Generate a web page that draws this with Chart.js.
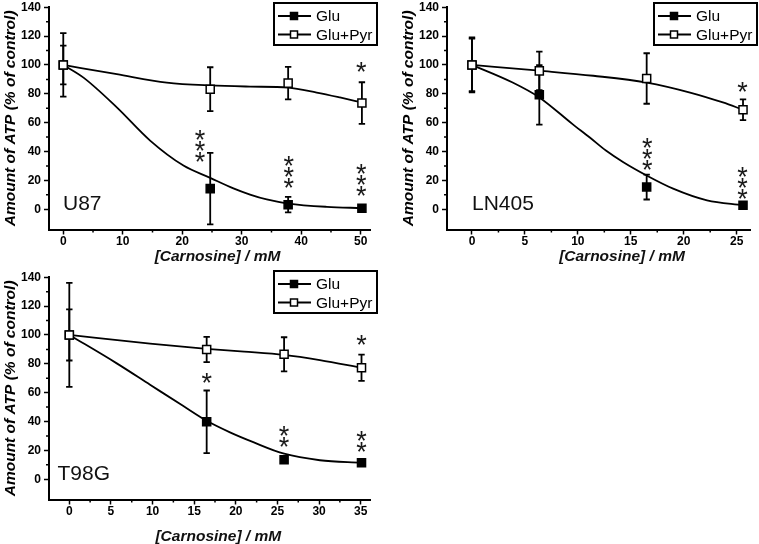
<!DOCTYPE html>
<html>
<head>
<meta charset="utf-8">
<script src="https://cdn.jsdelivr.net/npm/chart.js@4.4.1/dist/chart.umd.min.js"></script>
<style>
  html, body { margin: 0; padding: 0; background: #fff; }
  body { width: 759px; height: 544px; position: relative; overflow: hidden; }
  .panel { position: absolute; }
</style>
</head>
<body>
<div class="panel" style="left:0;top:0;width:380px;height:270px"><canvas id="u87"></canvas></div>
<div class="panel" style="left:398px;top:0;width:361px;height:270px"><canvas id="ln405"></canvas></div>
<div class="panel" style="left:0;top:270px;width:380px;height:274px"><canvas id="t98g"></canvas></div>
<script>
// ---- data ----
const yMajor = [0, 20, 40, 60, 80, 100, 120, 140];
const yMinor = [10, 30, 50, 70, 90, 110, 130];

// U87
const u87X = [0, 24.7, 37.8, 50.2];
const u87Glu = [100, 14.3, 3.2, 0.7];
const u87GluErr = [22, 24.8, 5.4, 0];
const u87Pyr = [100, 83.2, 87.4, 73.6];
const u87PyrErr = [13.4, 15.2, 11.2, 14.4];
const u87GluFitX = [0, 3.4, 9, 14.6, 20.2, 24.7, 28.6, 31.4, 34.2, 37.8, 44.3, 50.2];
const u87GluFitY = [100, 91.2, 70.6, 47.6, 30.3, 21.8, 14.5, 10.2, 6.8, 4.0, 1.7, 0.8];
const u87PyrFitX = [0, 9, 17.4, 24.7, 31.4, 37.8, 42.6, 46.5, 50.2];
const u87PyrFitY = [100, 93.6, 87.8, 85.8, 85, 84.3, 80.9, 77.5, 74];
const u87XMajor = [0, 10, 20, 30, 40, 50];
const u87XMinor = [5, 15, 25, 35, 45];
const u87StarX = [23, 37.9, 50.1, 50.1];
const u87StarY = [51.5, 33.8, 27.6, 98.8];
const u87StarN = [3, 3, 3, 1];

// LN405
const ln405X = [0, 6.36, 16.5, 25.6];
const ln405Glu = [100, 79.3, 15.4, 2.8];
const ln405GluErr = [19, 20.6, 8.6, 0];
const ln405Pyr = [100, 95.9, 90.6, 69];
const ln405PyrErr = [18.2, 13.3, 17.5, 7.2];
const ln405GluFitX = [0, 3.84, 6.36, 9.5, 11.1, 12.65, 14.3, 16.5, 19, 22.2, 25.6];
const ln405GluFitY = [100, 87.8, 77.5, 59, 49.9, 40.7, 32.6, 23.4, 14.3, 6.2, 2.8];
const ln405PyrFitX = [0, 6.36, 11.46, 16.5, 20.6, 23.7, 25.6];
const ln405PyrFitY = [100, 96, 92.5, 87.8, 80.9, 74, 69];
const ln405XMajor = [0, 5, 10, 15, 20, 25];
const ln405XMinor = [2.5, 7.5, 12.5, 17.5, 22.5];
const ln405StarX = [16.56, 25.56, 25.56];
const ln405StarY = [45.7, 25.7, 84.8];
const ln405StarN = [3, 3, 1];

// T98G
const t98gX = [0, 16.5, 25.8, 35.1];
const t98gGlu = [100, 39.8, 13.6, 11.4];
const t98gGluErr = [36, 21.7, 0, 0];
const t98gPyr = [100, 89.9, 86.6, 77.3];
const t98gPyrErr = [17.7, 8.8, 11.8, 9.1];
const t98gGluFitX = [0, 5.7, 9.7, 13.7, 16.5, 19.3, 22.1, 25.8, 30.1, 35.1];
const t98gGluFitY = [100, 80.3, 65.5, 50.7, 40.5, 32.5, 25.7, 17.7, 13.2, 11.4];
const t98gPyrFitX = [0, 9.7, 16.5, 21, 25.8, 30.1, 35.1];
const t98gPyrFitY = [100, 94, 90.4, 88.5, 86.2, 82.6, 77.3];
const t98gXMajor = [0, 5, 10, 15, 20, 25, 30, 35];
const t98gXMinor = [2.5, 7.5, 12.5, 17.5, 22.5, 27.5, 32.5];
const t98gStarX = [16.5, 25.8, 35.1, 35.1];
const t98gStarY = [70, 33.6, 30.2, 96.2];
const t98gStarN = [1, 2, 2, 1];

const FONT = "'Liberation Sans', Arial, Helvetica, sans-serif";
const pts = (xs, ys) => xs.map((v, i) => ({ x: v, y: ys[i] }));

function makePanel(id, p) {
  // error bars go under the markers
  const errorBars = {
    id: 'errorBars',
    beforeDatasetsDraw(chart) {
      const { ctx, scales: { x, y } } = chart;
      ctx.save();
      ctx.strokeStyle = '#000';
      ctx.lineWidth = 1.8;
      [[p.glu, p.gluErr], [p.pyr, p.pyrErr]].forEach(([ys, es]) => {
        p.x.forEach((xv, i) => {
          if (!es[i]) return;
          const px = x.getPixelForValue(xv);
          const top = y.getPixelForValue(ys[i] + es[i]);
          const bot = y.getPixelForValue(ys[i] - es[i]);
          ctx.beginPath();
          ctx.moveTo(px, top); ctx.lineTo(px, bot);
          ctx.moveTo(px - 3.2, top); ctx.lineTo(px + 3.2, top);
          ctx.moveTo(px - 3.2, bot); ctx.lineTo(px + 3.2, bot);
          ctx.stroke();
        });
      });
      ctx.restore();
    },
  };

  const extras = {
    id: 'extras',
    afterDraw(chart) {
      const { ctx, chartArea, scales: { x, y } } = chart;
      ctx.save();
      // minor ticks
      ctx.strokeStyle = '#000';
      ctx.lineWidth = 1.5;
      ctx.beginPath();
      p.xMinor.forEach((v) => {
        const px = x.getPixelForValue(v);
        ctx.moveTo(px, chartArea.bottom); ctx.lineTo(px, chartArea.bottom + 3);
      });
      yMinor.forEach((v) => {
        const py = y.getPixelForValue(v);
        ctx.moveTo(chartArea.left, py); ctx.lineTo(chartArea.left - 3, py);
      });
      ctx.stroke();

      // significance stars
      ctx.fillStyle = '#1a1a1a';
      ctx.font = `27px ${FONT}`;
      ctx.textAlign = 'center';
      ctx.textBaseline = 'alphabetic';
      const m = ctx.measureText('*');
      const off = (m.actualBoundingBoxAscent - m.actualBoundingBoxDescent) / 2;
      p.starX.forEach((sx, i) => {
        const px = x.getPixelForValue(sx);
        const py = y.getPixelForValue(p.starY[i]);
        for (let k = 0; k < p.starN[i]; k++) ctx.fillText('*', px, py + k * 11 + off);
      });

      // cell line label
      ctx.fillStyle = '#111';
      ctx.font = `21px ${FONT}`;
      ctx.textAlign = 'left';
      ctx.fillText(p.name, chartArea.left + p.nameDx, chartArea.bottom - 19.5);

      // x title (not centred on the axis in the original)
      ctx.font = `italic bold 15.5px ${FONT}`;
      ctx.textAlign = 'center';
      ctx.textBaseline = 'middle';
      ctx.fillText('[Carnosine] / mM', chartArea.left + p.xTitleDx, chartArea.bottom + p.xTitleDy);

      // legend box
      const L = p.legend;
      ctx.lineWidth = 2;
      ctx.strokeRect(L.left, L.top, 103, 42);
      [chart.data.datasets[1], chart.data.datasets[0]].forEach((ds, i) => {
        const cy = L.top + 13 + i * 18.5;
        ctx.lineWidth = 1.8;
        ctx.beginPath();
        ctx.moveTo(L.left + 4, cy); ctx.lineTo(L.left + 37, cy);
        ctx.stroke();
        ctx.fillStyle = ds.backgroundColor;
        ctx.fillRect(L.left + 16.5, cy - 3.5, 7, 7);
        ctx.lineWidth = 1.5;
        ctx.strokeRect(L.left + 16.5, cy - 3.5, 7, 7);
        ctx.fillStyle = '#000';
        ctx.font = `15.5px ${FONT}`;
        ctx.textAlign = 'left';
        ctx.textBaseline = 'middle';
        ctx.fillText(ds.label, L.left + 42, cy + 1);
      });
      ctx.restore();
    },
  };

  const marker = { pointStyle: 'rect', pointRadius: 5.7, pointHoverRadius: 5.7, borderColor: '#000', borderWidth: 1.5, showLine: false };
  const fit = { showLine: true, pointRadius: 0, pointHoverRadius: 0, borderColor: '#000', borderWidth: 1.8, cubicInterpolationMode: 'monotone', fill: false };

  return new Chart(document.getElementById(id), {
    type: 'scatter',
    data: {
      datasets: [
        { ...marker, label: 'Glu+Pyr', data: pts(p.x, p.pyr), backgroundColor: '#fff' },
        { ...marker, label: 'Glu', data: pts(p.x, p.glu), backgroundColor: '#000' },
        { ...fit, label: 'Glu+Pyr fit', data: pts(p.pyrFitX, p.pyrFitY) },
        { ...fit, label: 'Glu fit', data: pts(p.gluFitX, p.gluFitY) },
      ],
    },
    options: {
      responsive: true,
      maintainAspectRatio: false,
      animation: false,
      events: [],
      layout: { padding: { left: 1, right: p.padRight, top: p.padTop, bottom: p.padBottom } },
      plugins: { legend: { display: false }, tooltip: { enabled: false } },
      scales: {
        x: {
          type: 'linear', min: p.xMin, max: p.xMax,
          afterBuildTicks: (s) => { s.ticks = p.xMajor.map((v) => ({ value: v })); },
          afterFit: (s) => { s.height = p.xAxisH; s.paddingLeft = 0; s.paddingRight = 0; },
          grid: { drawOnChartArea: false, drawTicks: true, tickLength: 5, tickWidth: 1.5, tickColor: '#000' },
          border: { display: true, color: '#000', width: 2 },
          ticks: { color: '#000', padding: 0, maxRotation: 0, autoSkip: false, font: { family: FONT, size: 12, weight: 'bold' } },
        },
        y: {
          type: 'linear', min: -14, max: 140,
          afterBuildTicks: (s) => { s.ticks = yMajor.map((v) => ({ value: v })); },
          afterFit: (s) => { s.width = 48; s.paddingTop = 0; s.paddingBottom = 0; },
          grid: { drawOnChartArea: false, drawTicks: true, tickLength: 5, tickWidth: 1.5, tickColor: '#000' },
          border: { display: true, color: '#000', width: 2 },
          ticks: { color: '#000', padding: 3, font: { family: FONT, size: 12, weight: 'bold' } },
          title: { display: true, text: 'Amount of ATP (% of control)', color: '#000', padding: 0, font: { family: FONT, size: 15.5, weight: 'bold', style: 'italic' } },
        },
      },
    },
    plugins: [errorBars, extras],
  });
}

makePanel('u87', {
  name: 'U87', nameDx: 14,
  x: u87X, glu: u87Glu, gluErr: u87GluErr, pyr: u87Pyr, pyrErr: u87PyrErr,
  gluFitX: u87GluFitX, gluFitY: u87GluFitY, pyrFitX: u87PyrFitX, pyrFitY: u87PyrFitY,
  xMajor: u87XMajor, xMinor: u87XMinor, xMin: -2.4, xMax: 51.56,
  starX: u87StarX, starY: u87StarY, starN: u87StarN,
  padRight: 10, padTop: 6, padBottom: 4, xAxisH: 36.5,
  xTitleDx: 168.5, xTitleDy: 27.5,
  legend: { left: 274, top: 3 },
});

makePanel('ln405', {
  name: 'LN405', nameDx: 25,
  x: ln405X, glu: ln405Glu, gluErr: ln405GluErr, pyr: ln405Pyr, pyrErr: ln405PyrErr,
  gluFitX: ln405GluFitX, gluFitY: ln405GluFitY, pyrFitX: ln405PyrFitX, pyrFitY: ln405PyrFitY,
  xMajor: ln405XMajor, xMinor: ln405XMinor, xMin: -2.36, xMax: 26.26,
  starX: ln405StarX, starY: ln405StarY, starN: ln405StarN,
  padRight: 9, padTop: 6, padBottom: 4, xAxisH: 36.5,
  xTitleDx: 175, xTitleDy: 27.2,
  legend: { left: 256, top: 3 },
});

makePanel('t98g', {
  name: 'T98G', nameDx: 8.5,
  x: t98gX, glu: t98gGlu, gluErr: t98gGluErr, pyr: t98gPyr, pyrErr: t98gPyrErr,
  gluFitX: t98gGluFitX, gluFitY: t98gGluFitY, pyrFitX: t98gPyrFitX, pyrFitY: t98gPyrFitY,
  xMajor: t98gXMajor, xMinor: t98gXMinor, xMin: -2.44, xMax: 36.12,
  starX: t98gStarX, starY: t98gStarY, starN: t98gStarN,
  padRight: 10, padTop: 4.7, padBottom: 0, xAxisH: 44.5,
  xTitleDx: 169.3, xTitleDy: 37.2,
  legend: { left: 274, top: 1 },
});
</script>
</body>
</html>
